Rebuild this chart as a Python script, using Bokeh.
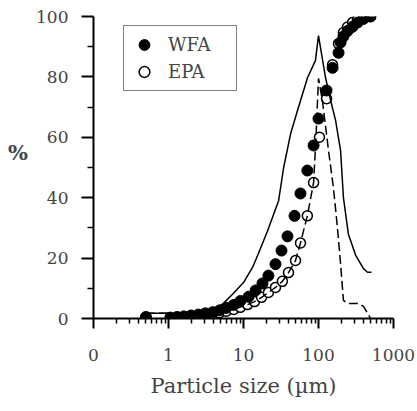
from bokeh.plotting import figure
from bokeh.models import Range1d, FixedTicker, Legend
from bokeh.embed import file_html
from bokeh.resources import INLINE

# Cumulative particle-size distributions (%)
wfa_size = [0.5, 1.06, 1.3, 1.6, 2.0, 2.5, 3.1, 3.9, 4.8, 5.9, 7.4, 9.1, 11.7, 14.5,
            17.9, 21.5, 26.7, 32.1, 38.6, 47.9, 57.5, 71, 86, 100, 128, 154, 185,
            197, 215, 244, 284, 331, 398, 493]
wfa_cum = [0.5, 0.3, 0.5, 0.7, 1.0, 1.3, 1.7, 2.1, 2.7, 3.5, 4.5, 5.8, 7.2, 9.3,
           11.6, 14.2, 18.0, 22.5, 27.2, 34.0, 41.4, 49.0, 57.3, 66.2, 75.5, 83.0, 88.0,
           91.4, 93.4, 95.2, 96.6, 98.0, 99.2, 100.0]

epa_size = [0.5, 1.06, 1.3, 1.6, 2.0, 2.5, 3.1, 3.9, 4.8, 5.9, 7.4, 9.1, 11.3, 14,
            17.4, 21.5, 26.7, 33, 39.8, 49.4, 57.5, 71, 86, 103, 128, 154, 185,
            215, 244, 284, 331, 398, 493]
epa_cum = [0.3, 0.2, 0.3, 0.5, 0.7, 0.9, 1.2, 1.5, 1.9, 2.4, 3.0, 3.7, 4.6, 5.6,
           7.0, 8.6, 10.3, 12.3, 15.2, 19.2, 25.0, 34.0, 45.0, 60.0, 72.8, 84.0, 91.0,
           94.7, 96.5, 98.0, 99.0, 99.6, 100.0]

# Frequency distributions (lines)
wfa_freq_size = [0.5, 1.07, 1.3, 2.0, 3.0, 4.2, 5.4, 7.3, 10, 13.2, 15.8, 20.9, 29.4,
                 34.3, 42.6, 52.5, 71.5, 91, 100, 124, 145, 169, 197, 215, 250, 312,
                 398, 450, 509]
wfa_freq = [1.7, 1.7, 0.8, 1.2, 2.0, 3.2, 5.0, 8.3, 11.9, 16.9, 21.5, 29.0, 39.0,
            50.0, 61.3, 68.9, 79.8, 85.4, 93.7, 79.8, 72.2, 65.6, 55.6, 40.0, 28.0, 21.0,
            16.5, 15.3, 15.3]

epa_freq_size = [0.5, 1.07, 1.3, 2.0, 3.0, 5.0, 7.4, 11.3, 14, 17.4, 21.5, 26.7, 33,
                 39.8, 49.4, 57.5, 71, 86, 93, 97, 100, 113, 136, 158, 179, 197, 215,
                 244, 284, 341, 398, 464, 493]
epa_freq = [1.7, 1.7, 0.5, 0.8, 1.2, 2.0, 3.0, 4.6, 5.6, 7.0, 8.6, 10.3, 12.3,
            15.2, 19.2, 25.0, 34.0, 45.0, 61.0, 72.0, 79.5, 72.0, 55.6, 43.4, 30.0, 18.0, 6.0,
            5.0, 5.0, 5.0, 4.0, 1.3, 0.0]

x_ticks = [0.1, 1, 10, 100, 1000]
x_tick_labels = ["0", "1", "10", "100", "1000"]
y_ticks = [0, 20, 40, 60, 80, 100]
y_minor_ticks = [10, 30, 50, 70, 90]

FONT = "DejaVu Serif"

p = figure(width=417, height=411, x_axis_type="log",
           x_range=Range1d(0.1, 1000), y_range=Range1d(0, 100),
           output_backend="svg", toolbar_location=None,
           min_border_left=93, min_border_right=24,
           min_border_top=16, min_border_bottom=93)
p.outline_line_color = None
p.xgrid.visible = False
p.ygrid.visible = False
p.background_fill_color = "white"
p.border_fill_color = "white"

r_epa = p.scatter(epa_size, epa_cum, marker="circle", size=10,
                  fill_color="white", line_color="black", line_width=1.5)
p.line(epa_freq_size, epa_freq, line_color="black", line_width=1.5, line_dash="9 4")
p.line(wfa_freq_size, wfa_freq, line_color="black", line_width=1.5)
r_wfa = p.scatter(wfa_size, wfa_cum, marker="circle", size=11,
                  fill_color="black", line_color="black", line_width=1)

# x axis (log scale)
minor_x = [m * d for d in (0.1, 1, 10, 100) for m in range(2, 10)]
xa = p.xaxis[0]
xa.ticker = FixedTicker(ticks=x_ticks, minor_ticks=minor_x)
xa.major_label_overrides = {t: s for t, s in zip(x_ticks, x_tick_labels)}
xa.axis_label = "Particle size (\u00b5m)"
xa.axis_label_text_font = FONT
xa.axis_label_text_font_style = "normal"
xa.axis_label_text_font_size = "21px"
xa.axis_label_standoff = 10
xa.major_label_text_font = FONT
xa.major_label_text_font_size = "17px"
xa.major_label_standoff = 20
xa.major_tick_out = 10
xa.major_tick_in = 0
xa.minor_tick_out = 5
xa.minor_tick_in = 0
xa.axis_line_width = 2
xa.major_tick_line_width = 2
xa.minor_tick_line_width = 1.5

# y axis; the trailing blank line lifts the "%" above the axis middle
ya = p.yaxis[0]
ya.ticker = FixedTicker(ticks=y_ticks, minor_ticks=y_minor_ticks)
ya.axis_label = "%\n "
ya.axis_label_orientation = "horizontal"
ya.axis_label_text_font = FONT
ya.axis_label_text_font_style = "bold"
ya.axis_label_text_font_size = "21px"
ya.axis_label_standoff = 5
ya.major_label_text_font = FONT
ya.major_label_text_font_size = "17px"
ya.major_label_standoff = 13
ya.major_tick_out = 12
ya.major_tick_in = 0
ya.minor_tick_out = 6
ya.minor_tick_in = 0
ya.axis_line_width = 2
ya.major_tick_line_width = 2
ya.minor_tick_line_width = 1.5

legend = Legend(items=[("WFA", [r_wfa]), ("EPA", [r_epa])],
                location=(30, 227), orientation="vertical",
                padding=5, spacing=0, margin=0,
                glyph_width=30, glyph_height=27, label_standoff=9,
                label_width=63,
                label_text_font=FONT, label_text_font_size="18px",
                border_line_color="black", border_line_width=1,
                background_fill_color="white", background_fill_alpha=1)
p.add_layout(legend, "center")

open("out.html", "w").write(file_html(p, INLINE))
